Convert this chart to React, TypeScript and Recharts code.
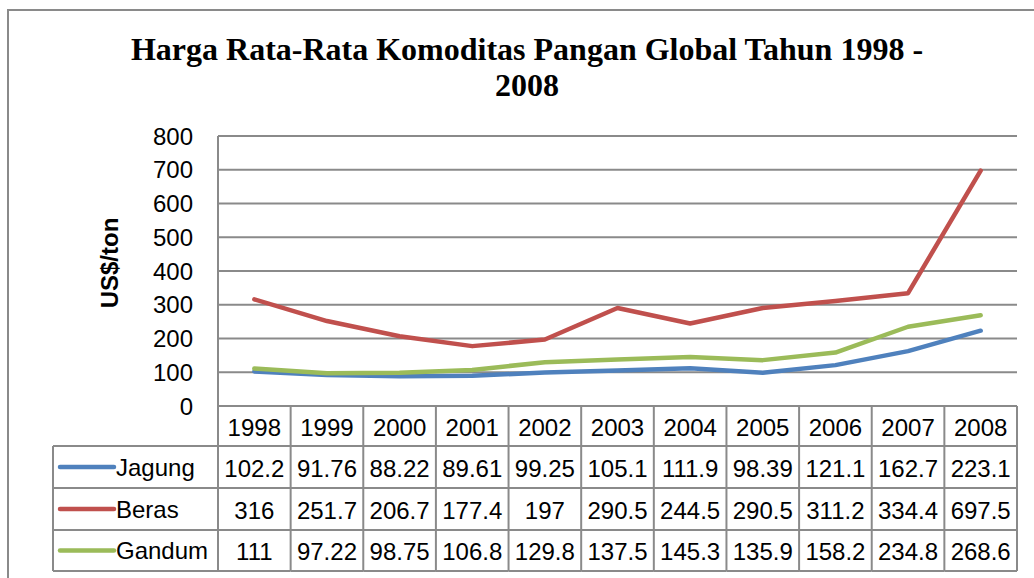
import { LineChart, Line, XAxis, YAxis, CartesianGrid } from 'recharts';

const years = ['1998', '1999', '2000', '2001', '2002', '2003', '2004', '2005', '2006', '2007', '2008'];
const jagung = [102.2, 91.76, 88.22, 89.61, 99.25, 105.1, 111.9, 98.39, 121.1, 162.7, 223.1];
const beras = [316, 251.7, 206.7, 177.4, 197, 290.5, 244.5, 290.5, 311.2, 334.4, 697.5];
const gandum = [111, 97.22, 98.75, 106.8, 129.8, 137.5, 145.3, 135.9, 158.2, 234.8, 268.6];
const yTicks = [0, 100, 200, 300, 400, 500, 600, 700, 800];

const series = [
  { key: 'Jagung', values: jagung, color: '#4F81BD' },
  { key: 'Beras', values: beras, color: '#C0504D' },
  { key: 'Gandum', values: gandum, color: '#9BBB59' },
];

const data = years.map((year, i) => ({
  year,
  Jagung: jagung[i],
  Beras: beras[i],
  Gandum: gandum[i],
}));

// layout
const W = 1034;
const H = 578;
const PLOT_LEFT = 218;
const PLOT_RIGHT = 1017;
const PLOT_TOP = 136;
const PLOT_BOTTOM = 406;
const COL_W = (PLOT_RIGHT - PLOT_LEFT) / years.length;
const ROWS = [406, 446, 488, 530, 571];
const LEGEND_LEFT = 53;
const GRID = '#8a8a8a';
const SANS = '"Liberation Sans", Arial, sans-serif';

// each x-axis tick draws one column of the data table
const TableColumn = (props: any) => {
  const { x, payload } = props;
  const i = payload.index;
  const left = x - COL_W / 2;
  const right = x + COL_W / 2;
  return (
    <g>
      {i === 0 && (
        <g>
          <line x1={left} y1={ROWS[0]} x2={left} y2={ROWS[4]} stroke={GRID} strokeWidth={2} />
          <line x1={LEGEND_LEFT} y1={ROWS[1]} x2={LEGEND_LEFT} y2={ROWS[4]} stroke={GRID} strokeWidth={2} />
          {[1, 2, 3, 4].map((r) => (
            <line key={r} x1={LEGEND_LEFT} y1={ROWS[r]} x2={left} y2={ROWS[r]} stroke={GRID} strokeWidth={2} />
          ))}
          {series.map((s, r) => {
            const cy = (ROWS[r + 1] + ROWS[r + 2]) / 2;
            return (
              <g key={s.key}>
                <line x1={60} y1={cy} x2={114} y2={cy} stroke={s.color} strokeWidth={4.5} strokeLinecap="round" />
                <text x={116} y={cy} dominantBaseline="central" fontFamily={SANS} fontSize={24} fill="#000">
                  {s.key}
                </text>
              </g>
            );
          })}
        </g>
      )}
      <line x1={right} y1={ROWS[0]} x2={right} y2={ROWS[4]} stroke={GRID} strokeWidth={2} />
      {[1, 2, 3, 4].map((r) => (
        <line key={r} x1={left} y1={ROWS[r]} x2={right} y2={ROWS[r]} stroke={GRID} strokeWidth={2} />
      ))}
      <text x={x} y={(ROWS[0] + ROWS[1]) / 2 + 1} textAnchor="middle" dominantBaseline="central" fontFamily={SANS} fontSize={24} fill="#000">
        {payload.value}
      </text>
      {series.map((s, r) => (
        <text
          key={s.key}
          x={x}
          y={(ROWS[r + 1] + ROWS[r + 2]) / 2 + 1}
          textAnchor="middle"
          dominantBaseline="central"
          fontFamily={SANS}
          fontSize={24}
          fill="#000"
        >
          {String(s.values[i])}
        </text>
      ))}
    </g>
  );
};

export default function App() {
  return (
    <div style={{ position: 'fixed', left: 0, top: 0, width: W, height: H, overflow: 'hidden', background: '#fff' }}>
      <div
        style={{
          position: 'absolute',
          left: 7,
          top: 9,
          width: 1100,
          height: 700,
          borderLeft: `2px solid ${GRID}`,
          borderTop: `2px solid ${GRID}`,
        }}
      />
      <div style={{ position: 'absolute', left: 0, top: 0 }}>
        <LineChart width={W} height={H} data={data} margin={{ top: PLOT_TOP, right: W - PLOT_RIGHT, bottom: 0, left: 0 }}>
          <CartesianGrid vertical={false} stroke={GRID} strokeWidth={2} />
          <XAxis
            dataKey="year"
            scale="band"
            interval={0}
            height={H - PLOT_BOTTOM}
            axisLine={{ stroke: GRID, strokeWidth: 2 }}
            tickLine={false}
            tick={<TableColumn />}
          />
          <YAxis
            width={PLOT_LEFT}
            domain={[0, 800]}
            ticks={yTicks}
            interval={0}
            tickSize={0}
            tickMargin={25}
            axisLine={{ stroke: GRID, strokeWidth: 2 }}
            tickLine={false}
            tick={{ fontFamily: SANS, fontSize: 24, fill: '#000' }}
          />
          {series.map((s) => (
            <Line
              key={s.key}
              dataKey={s.key}
              type="linear"
              stroke={s.color}
              strokeWidth={4.5}
              strokeLinecap="round"
              strokeLinejoin="round"
              dot={false}
              activeDot={false}
              isAnimationActive={false}
            />
          ))}
        </LineChart>
      </div>
      <svg width={W} height={H} style={{ position: 'absolute', left: 0, top: 0, pointerEvents: 'none' }}>
        <text x={527} y={59.5} textAnchor="middle" fontFamily='"Liberation Serif", "Times New Roman", serif' fontWeight="bold" fontSize={32} fill="#000">
          Harga Rata-Rata Komoditas Pangan Global Tahun 1998 -
        </text>
        <text x={527} y={96} textAnchor="middle" fontFamily='"Liberation Serif", "Times New Roman", serif' fontWeight="bold" fontSize={32} fill="#000">
          2008
        </text>
        <text
          x={109}
          y={263}
          transform="rotate(-90 109 263)"
          textAnchor="middle"
          dominantBaseline="central"
          fontFamily={SANS}
          fontWeight="bold"
          fontSize={24}
          fill="#000"
        >
          US$/ton
        </text>
      </svg>
    </div>
  );
}
